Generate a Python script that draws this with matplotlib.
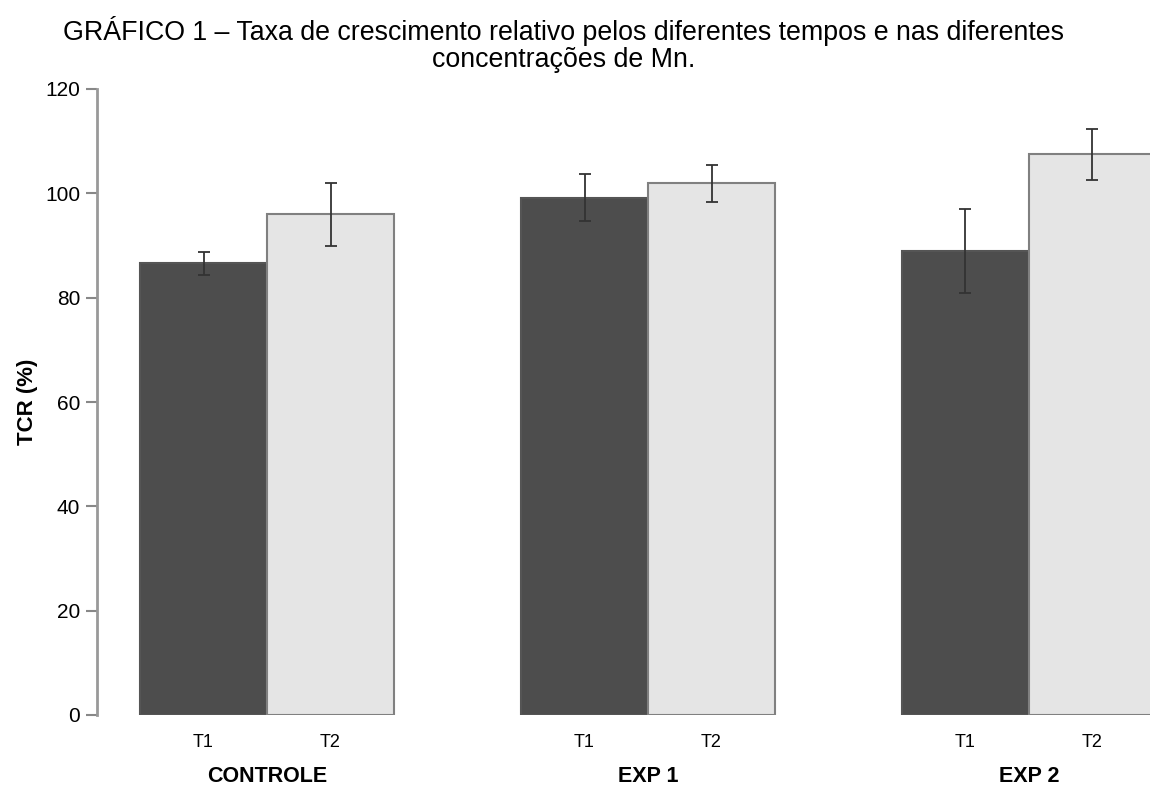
import numpy as np
import matplotlib.pyplot as plt

plt.rcParams['font.family'] = ['Liberation Sans', 'DejaVu Sans']

# dados
grupos = ['CONTROLE', 'EXP 1', 'EXP 2']
tempos = ['T1', 'T2']
tcr_t1 = [86.6, 99.2, 88.9]
tcr_t2 = [96.0, 101.9, 107.5]
erro_t1 = [2.2, 4.5, 8.1]
erro_t2 = [6.0, 3.6, 4.9]

titulo = ('GRÁFICO 1 – Taxa de crescimento relativo pelos diferentes tempos e nas diferentes\n'
          'concentrações de Mn.')

fig = plt.figure(figsize=(11.5, 7.87), dpi=100)
ax = fig.add_axes([97 / 1150, 1 - 715 / 787, 1 - 97 / 1150, 626 / 787])

x = np.arange(len(grupos))
w = 1 / 3
err_kw = dict(ecolor='#333333', elinewidth=1.3, capsize=4, capthick=1.3)
ax.bar(x - w / 2, tcr_t1, w, yerr=erro_t1, color='#4d4d4d', edgecolor='#555555',
       linewidth=1.5, error_kw=err_kw)
ax.bar(x + w / 2, tcr_t2, w, yerr=erro_t2, color='#e5e5e5', edgecolor='#808080',
       linewidth=1.5, error_kw=err_kw)

ax.set_xlim((97 - 267) / 381, (1150 - 267) / 381)
ax.set_ylim(0, 120)
ax.set_yticks(np.arange(0, 121, 20))
ax.tick_params(axis='y', labelsize=15, length=8, width=1.5, color='#888888', pad=4)

pos = np.concatenate([x - w / 2, x + w / 2])
ax.set_xticks(np.sort(pos))
ax.set_xticklabels(tempos * len(grupos))
ax.tick_params(axis='x', length=0, labelsize=13, pad=14)

for s in ['top', 'right', 'bottom']:
    ax.spines[s].set_visible(False)
ax.spines['left'].set_color('#999999')
ax.spines['left'].set_linewidth(2)

ax.set_ylabel('TCR (%)', fontsize=16, fontweight='bold', labelpad=5)

for i, g in enumerate(grupos):
    ax.annotate(g, xy=(x[i], 0), xycoords='data', xytext=(0, -44), textcoords='offset points',
                ha='center', va='center', fontsize=15.5, fontweight='bold', annotation_clip=False)

fig.text(0.49, 0.98, titulo, ha='center', va='top', fontsize=19.3, linespacing=1.08)

fig.savefig('out.png', dpi=100)
